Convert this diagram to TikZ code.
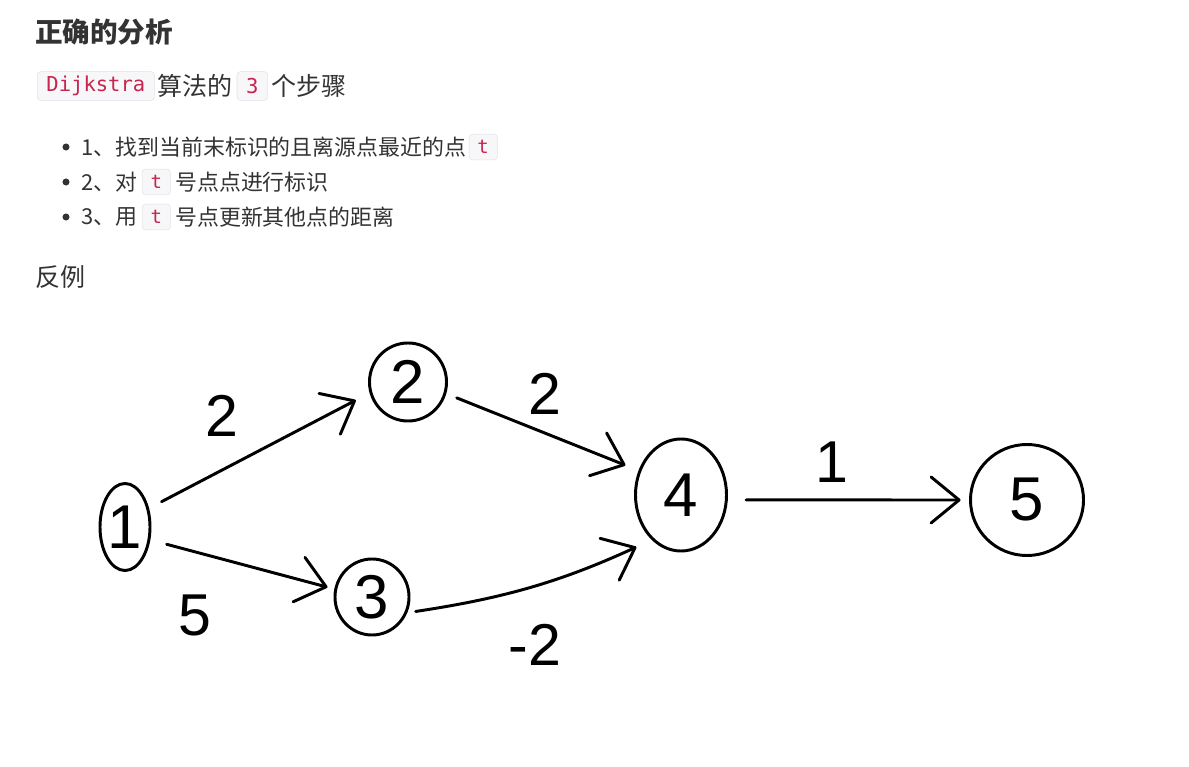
\documentclass[tikz,border=0pt]{standalone}
\usepackage{fontspec}
\setmainfont{Noto Sans CJK SC}
\newfontfamily\codefont{DejaVu Sans Mono}
\newfontfamily\handfont{Liberation Sans}
\usepackage{xcolor}
\usetikzlibrary{positioning, arrows.meta, shapes.geometric}
\definecolor{txt}{RGB}{51,51,51}
\definecolor{codered}{RGB}{199,37,78}
\definecolor{codebg}{RGB}{247,247,249}
\definecolor{codeline}{RGB}{225,225,232}

\begin{document}
\begin{tikzpicture}[x=0.025cm, y=-0.025cm,
    txtnode/.style={text=txt, inner sep=0pt, anchor=west},
    big/.style={font=\fontsize{17.8}{20}\selectfont},
    list/.style={font=\fontsize{15.6}{18}\selectfont},
    code/.style={draw=codeline, fill=codebg, text=codered, rounded corners=2.5pt, inner xsep=6.5pt, inner ysep=0pt, minimum height=20.5pt, font=\codefont\fontsize{14.6}{16}\selectfont},
    tcode/.style={code, inner xsep=6pt, minimum height=18.4pt, font=\codefont\fontsize{13.5}{15}\selectfont},
    dot/.style={circle, fill=txt, inner sep=0pt, minimum size=5pt},
    vtx/.style={ellipse, draw, line width=2.1pt, inner sep=0pt, font=\handfont\fontsize{44}{44}\selectfont},
    wt/.style={inner sep=0pt, font=\handfont\fontsize{42}{42}\selectfont},
    hand/.style={draw, -{Straight Barb[length=0.7cm, width=1.15cm, round]}, line width=2.1pt, line cap=round}]
    \useasboundingbox (0,0) rectangle (1189,767);

    % heading and steps
    \node[txtnode, font=\bfseries\fontsize{19.6}{22}\selectfont] (title) at (35,32) {正确的分析};
    \node[code, anchor=west] (dijk) at (37,86) {Dijkstra};
    \node[txtnode, big, right=2pt of dijk] (algo) {算法的};
    \node[code, right=2.5pt of algo] (three) {3};
    \node[txtnode, big, right=2pt of three] (steps) {个步骤};

    \node[dot] (b1) at (66,147) {};
    \node[dot] (b2) at (66,182) {};
    \node[dot] (b3) at (66,217) {};
    \node[txtnode, list] (s1) at (81,147) {1、找到当前末标识的且离源点最近的点};
    \node[tcode, right=1.5pt of s1] (t1) {t};
    \node[txtnode, list] (s2a) at (81,182) {2、对};
    \node[tcode, right=3pt of s2a] (t2) {t};
    \node[txtnode, list, right=3pt of t2] (s2b) {号点点进行标识};
    \node[txtnode, list] (s3a) at (81,217) {3、用};
    \node[tcode, right=3pt of s3a] (t3) {t};
    \node[txtnode, list, right=3pt of t3] (s3b) {号点更新其他点的距离};

    \node[txtnode, big] (fanli) at (35,277) {反例};

    % counter example graph
    \node[vtx, minimum width=1.25cm, minimum height=2.175cm] (n1) at (125,527) {1};
    \node[vtx, minimum width=1.925cm, minimum height=1.95cm] (n2) at (408,382) {2};
    \node[vtx, minimum width=1.85cm, minimum height=1.9cm] (n3) at (372,597) {3};
    \node[vtx, minimum width=2.275cm, minimum height=2.8cm] (n4) at (681,495) {4};
    \node[vtx, minimum width=2.825cm, minimum height=2.775cm] (n5) at (1027,500) {5};

    \node[wt] (w12) at (222,416) {2};
    \node[wt] (w13) at (195,615) {5};
    \node[wt] (w24) at (545,394) {2};
    \node[wt] (w34) at (535,645) {-2};
    \node[wt] (w45) at (832,462) {1};

    \path
      (n1.38) edge[hand, shorten <=10pt, shorten >=11pt] (n2.196)
      (n1.-27) edge[hand, shorten <=12pt, shorten >=5pt] (n3.168)
      (n2.-17) edge[hand, shorten <=8pt, shorten >=10pt] (n4.150)
      (n3.-24) edge[hand, bend right=8, shorten <=6pt, shorten >=12pt] (n4.237)
      (n4.-6) edge[hand, shorten <=13pt, shorten >=6pt] (n5.west);
\end{tikzpicture}
\end{document}
